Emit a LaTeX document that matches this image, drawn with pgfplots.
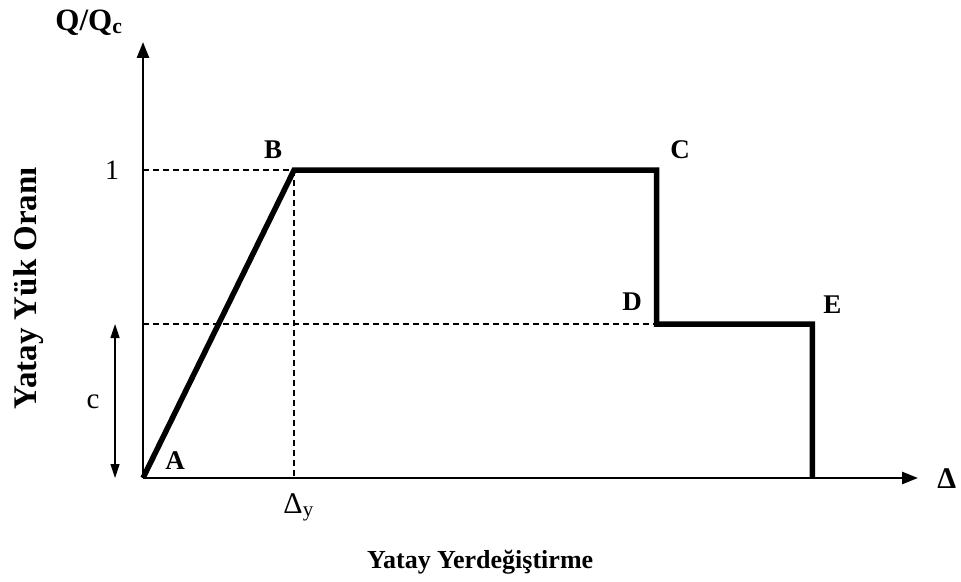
\documentclass[border=0pt]{standalone}
\usepackage{fontspec}
\setmainfont{Liberation Serif}
\usepackage{pgfplots}
\pgfplotsset{compat=1.18}
\usetikzlibrary{arrows.meta}
\newcommand{\F}[1]{\fontsize{#1bp}{#1bp}\selectfont}
\begin{document}
\begin{tikzpicture}
\begin{axis}[
  at={(0,0)}, anchor=origin,
  scale only axis, width=775bp, height=436bp,
  xmin=0, xmax=5.13, ymin=0, ymax=1.416,
  axis x line=bottom, axis y line=left,
  axis line style={line width=2.6bp, -{Triangle[length=16bp,width=12bp]}},
  xtick=\empty, ytick=\empty,
  clip=false,
]
\addplot[black, line width=1.3bp, dash pattern=on 6bp off 4bp] coordinates {(0,1) (1,1)};
\addplot[black, line width=1.3bp, dash pattern=on 6bp off 4bp] coordinates {(1,1) (1,0)};
\addplot[black, line width=1.3bp, dash pattern=on 6bp off 4bp] coordinates {(0,0.5) (3.4,0.5)};
\addplot[black, line width=5.5bp, line join=miter] coordinates {(0,0) (1,1) (3.4,1) (3.4,0.5) (4.43,0.5) (4.43,0)};
\draw[line width=1.4bp, {Triangle[length=14bp,width=9bp]}-{Triangle[length=14bp,width=9bp]}] (axis cs:-0.185,0) -- (axis cs:-0.185,0.5);
\node[font=\F{27}\bfseries] at (axis cs:0.861,1.065) {B};
\node[font=\F{27}\bfseries] at (axis cs:3.556,1.065) {C};
\node[font=\F{27}\bfseries] at (axis cs:3.238,0.571) {D};
\node[font=\F{27}\bfseries] at (axis cs:4.563,0.562) {E};
\node[font=\F{27}\bfseries] at (axis cs:0.212,0.058) {A};
\node[font=\F{28}] at (axis cs:-0.205,1) {1};
\node[font=\F{29}] at (axis cs:-0.33,0.247) {c};
\node[font=\F{30}] at (axis cs:1.03,-0.095) {Δ\textsubscript{y}};
\node[font=\F{31}\bfseries] at (axis cs:-0.358,1.48) {Q/Q\textsubscript{c}};
\node[font=\F{30}\bfseries] at (axis cs:5.32,-0.003) {Δ};
\node[font=\F{33}\bfseries, rotate=90] at (axis cs:-0.76,0.617) {Yatay Yük Oranı};
\node[font=\F{26}\bfseries] at (axis cs:2.232,-0.273) {Yatay Yerdeğiştirme};
\end{axis}
\pgfresetboundingbox
\path (-143bp,-104bp) rectangle (818bp,478bp);
\end{tikzpicture}
\end{document}
